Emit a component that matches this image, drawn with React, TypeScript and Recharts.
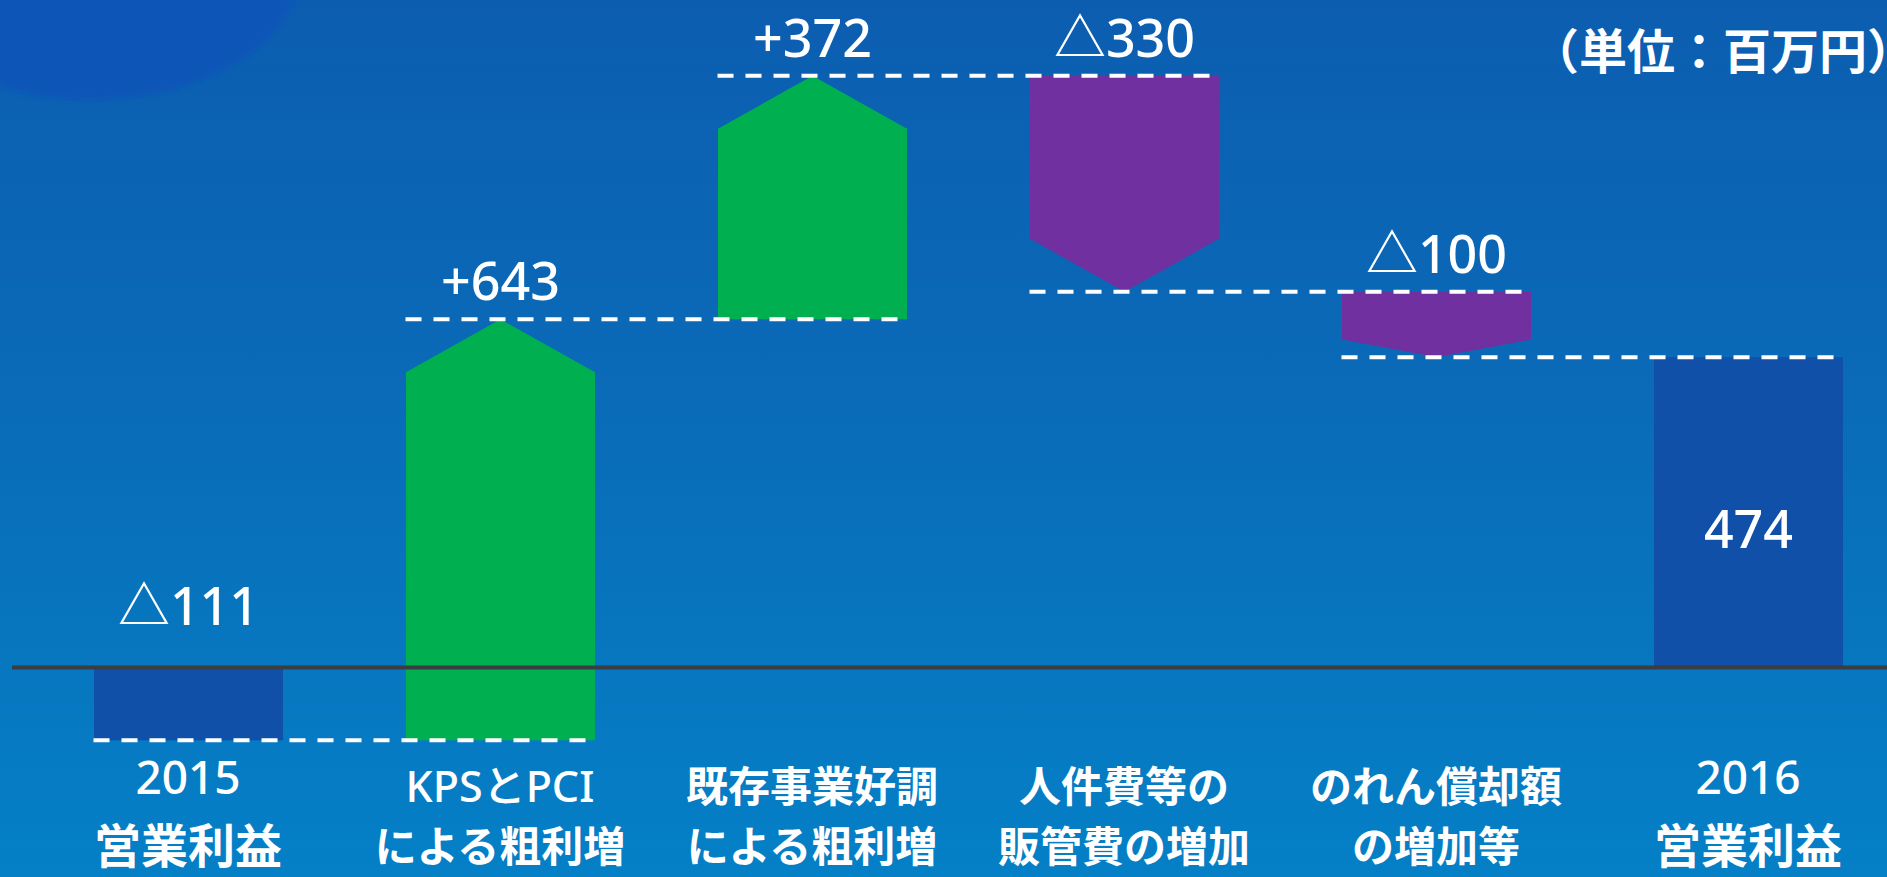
import React from 'react';
import { BarChart, Bar, XAxis, YAxis, ReferenceLine, LabelList } from 'recharts';

// ---- data ----
const categoryLines: string[][] = [
  ['2015', '営業利益'],
  ['KPSとPCI', 'による粗利増'],
  ['既存事業好調', 'による粗利増'],
  ['人件費等の', '販管費の増加'],
  ['のれん償却額', 'の増加等'],
  ['2016', '営業利益'],
];
// totals are absolute values, the others are changes
const values = [-111, 643, 372, -330, -100, 474];
const kinds = ['total', 'up', 'up', 'down', 'down', 'total'];
const valueLabels = ['△111', '+643', '+372', '△330', '△100', '474'];
const unitLabel = '（単位：百万円）';
const yDomain: [number, number] = [-135, 980];

const categories = categoryLines.map((l) => l.join('\n'));

let running = 0;
const data = categories.map((name, i) => {
  const kind = kinds[i];
  let start = 0;
  let end = 0;
  if (kind === 'total') {
    start = 0;
    end = values[i];
  } else {
    start = running;
    end = running + values[i];
  }
  running = end;
  return { name, range: [Math.min(start, end), Math.max(start, end)], kind, label: valueLabels[i], end };
});

const connectors = data.slice(0, -1).map((d, i) => ({ from: d.name, to: data[i + 1].name, level: d.end }));

// ---- styles ----
const BAR = 189;
const COLORS: Record<string, string> = { total: '#1050a8', up: '#00b050', down: '#7030a0' };
const LATIN = "'Noto Sans', 'Noto Sans CJK JP', sans-serif";
const CJK = "'Noto Sans CJK JP', 'Noto Sans', sans-serif";

function WaterfallShape(props: any) {
  const { x, y, width, height } = props;
  const kind = (props.payload && props.payload.kind) || props.kind;
  const top = Math.min(y, y + height);
  const h = Math.abs(height);
  const left = x;
  const right = x + width;
  const bottom = top + h;
  const cx = x + width / 2;
  const tip = Math.min(53, h * 0.27);
  if (kind === 'total') {
    return <rect x={left} y={top} width={width} height={h} fill={COLORS.total} />;
  }
  const pts =
    kind === 'up'
      ? [[left, bottom], [left, top + tip], [cx, top], [right, top + tip], [right, bottom]]
      : [[left, top], [right, top], [right, bottom - tip], [cx, bottom], [left, bottom - tip]];
  return <polygon points={pts.map((p) => p.join(',')).join(' ')} fill={COLORS[kind]} />;
}

function ValueLabel(props: any) {
  const { x, y, width, height, value } = props;
  let index = props.index;
  if (typeof index !== 'number') index = valueLabels.indexOf(value);
  const kind = kinds[index];
  const top = Math.min(y, y + height);
  const h = Math.abs(height);
  const cx = x + width / 2;
  let ty = top - 19;
  if (kind === 'total') ty = values[index] < 0 ? top - 43 : top + h / 2 + 36;
  return (
    <text x={cx} y={ty} textAnchor="middle" fill="#ffffff" fontSize={52} fontWeight={500} fontFamily={LATIN}>
      {value}
    </text>
  );
}

function CategoryTick(props: any) {
  const { x, y, payload } = props;
  const lines = String(payload.value).split('\n');
  const i = categories.indexOf(payload.value);
  const isTotal = kinds[i] === 'total';
  return (
    <g>
      {lines.map((line, k) => {
        const latin = /[A-Za-z0-9]/.test(line);
        const size = isTotal ? (latin ? 46 : 47) : latin ? 43 : 42;
        const dy = isTotal ? (k === 0 ? 38 : 107) : k === 0 ? 46 : 106;
        return (
          <text
            key={k}
            x={x}
            y={y + dy}
            textAnchor="middle"
            fill="#ffffff"
            fontSize={size}
            fontWeight={latin ? 500 : 700}
            fontFamily={latin ? LATIN : CJK}
          >
            {line}
          </text>
        );
      })}
    </g>
  );
}

function ConnectorShape(p: any) {
  const x1 = Math.min(p.x1, p.x2) - BAR / 2;
  const x2 = Math.max(p.x1, p.x2) + BAR / 2;
  return <line x1={x1} y1={p.y1} x2={x2} y2={p.y2} stroke="#ffffff" strokeWidth={4} strokeDasharray="16 12" />;
}

export default function App() {
  return (
    <div
      style={{
        position: 'fixed',
        left: 0,
        top: 0,
        width: 1887,
        height: 877,
        overflow: 'hidden',
        background: 'linear-gradient(to bottom, #0c5db0 0%, #0a6bb8 45%, #0480c6 100%)',
      }}
    >
      <svg width={1887} height={877} style={{ position: 'absolute', left: 0, top: 0 }}>
        <defs>
          <filter id="soft" x="-20%" y="-20%" width="140%" height="140%">
            <feGaussianBlur stdDeviation="2" />
          </filter>
        </defs>
        <ellipse cx={90} cy={-30} rx={210} ry={130} fill="#0a56b8" filter="url(#soft)" />
      </svg>
      <div style={{ position: 'absolute', left: 0, top: 0 }}>
        <BarChart width={1904} height={877} data={data} margin={{ top: 26, right: 0, left: 12, bottom: 0 }}>
          <XAxis
            dataKey="name"
            axisLine={false}
            tickLine={false}
            tickSize={0}
            tickMargin={0}
            interval={0}
            height={121}
            padding={{ left: 20, right: 0 }}
            tick={<CategoryTick />}
          />
          <YAxis hide domain={yDomain} />
          <ReferenceLine y={0} stroke="#3a3d42" strokeWidth={4} />
          <Bar dataKey="range" barSize={BAR} shape={WaterfallShape} isAnimationActive={false}>
            <LabelList dataKey="label" content={ValueLabel} />
          </Bar>
          {connectors.map((c, i) => (
            <ReferenceLine
              key={i}
              segment={[
                { x: c.from, y: c.level },
                { x: c.to, y: c.level },
              ]}
              stroke="#ffffff"
              strokeWidth={4}
              strokeDasharray="16 12"
              ifOverflow="visible"
              shape={ConnectorShape}
            />
          ))}
        </BarChart>
      </div>
      <svg width={1887} height={877} style={{ position: 'absolute', left: 0, top: 0, pointerEvents: 'none' }}>
        <text x={1531} y={69} fill="#ffffff" fontSize={48} fontWeight={700} fontFamily={CJK}>
          {unitLabel}
        </text>
      </svg>
    </div>
  );
}
